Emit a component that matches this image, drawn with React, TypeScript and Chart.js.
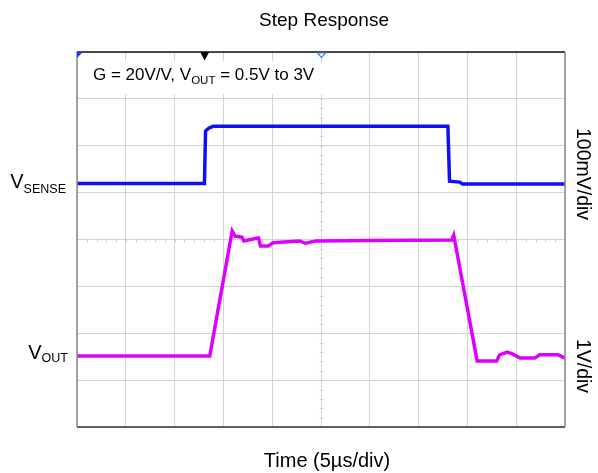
import React, { useEffect, useRef } from "react";
import { Chart, registerables } from "chart.js";

Chart.register(...registerables);

// ---- Data (time in µs, 5 µs/div, 10 divisions) ----
const TIME_US_SENSE = [0, 13.06, 13.17, 13.5, 13.93, 38.0, 38.17, 39.2, 39.5, 50];
const VSENSE_MV = [0, 0, 112, 118, 122, 122, 5, 3, -1, -1];

const TIME_US_OUT = [0, 13.6, 15.9, 16.2, 16.9, 17.1, 18.5, 18.6, 18.8, 19.6, 20.1, 22.8, 23.4, 24.5, 30, 38.4, 38.6, 41.0, 43.0, 43.3, 44.06, 44.6, 45.4, 46.9, 47.4, 49.3, 50];
const VOUT_V = [0.515, 0.515, 3.18, 3.07, 3.05, 2.97, 3.03, 3.03, 2.86, 2.86, 2.93, 2.97, 2.92, 2.97, 2.98, 2.99, 3.09, 0.41, 0.41, 0.54, 0.6, 0.56, 0.47, 0.47, 0.54, 0.54, 0.47];

// Scope settings
const X_DIVS = 10;
const US_PER_DIV = 5;
const Y_DIVS = 8;
const VSENSE_MV_PER_DIV = 100;
const VSENSE_OFFSET_DIV = 5.195;
const VOUT_V_PER_DIV = 1;
const VOUT_OFFSET_DIV = 1.0;
const TRIGGER_US = 13.08;

const TITLE = "Step Response";
const X_LABEL = "Time (5µs/div)";
const SENSE_SCALE = "100mV/div";
const OUT_SCALE = "1V/div";

const FONT = '"Liberation Sans", Arial, sans-serif';

function drawSub(ctx: CanvasRenderingContext2D, xRight: number, y: number, main: string, sub: string, mainSize: number, subSize: number, drop: number) {
  ctx.font = `${mainSize}px ${FONT}`;
  const wMain = ctx.measureText(main).width;
  ctx.font = `${subSize}px ${FONT}`;
  const wSub = ctx.measureText(sub).width;
  const x0 = xRight - wMain - wSub;
  ctx.textAlign = "left";
  ctx.textBaseline = "alphabetic";
  ctx.font = `${mainSize}px ${FONT}`;
  ctx.fillText(main, x0, y);
  ctx.font = `${subSize}px ${FONT}`;
  ctx.fillText(sub, x0 + wMain, y + drop);
}

const scopePlugin = {
  id: "scope",
  beforeDraw(chart: any) {
    const ctx = chart.ctx;
    ctx.save();
    ctx.fillStyle = "#ffffff";
    ctx.fillRect(0, 0, chart.width, chart.height);
    ctx.restore();
  },
  beforeDatasetsDraw(chart: any) {
    const ctx: CanvasRenderingContext2D = chart.ctx;
    const xs = chart.scales.x;
    const ys = chart.scales.y;
    ctx.save();
    ctx.strokeStyle = "#d0d0d0";
    ctx.lineWidth = 1;
    const cy = Math.round(ys.getPixelForValue(Y_DIVS / 2)) + 0.5;
    const cx = Math.round(xs.getPixelForValue((X_DIVS * US_PER_DIV) / 2)) + 0.5;
    ctx.beginPath();
    for (let t = 0; t <= X_DIVS * US_PER_DIV; t += US_PER_DIV / 5) {
      const px = Math.round(xs.getPixelForValue(t)) + 0.5;
      ctx.moveTo(px, cy - 2);
      ctx.lineTo(px, cy + 2);
    }
    for (let d = 0; d <= Y_DIVS + 0.001; d += 0.2) {
      const py = Math.round(ys.getPixelForValue(d)) + 0.5;
      ctx.moveTo(cx - 2, py);
      ctx.lineTo(cx + 2, py);
    }
    ctx.stroke();
    ctx.restore();
  },
  afterDraw(chart: any) {
    const ctx: CanvasRenderingContext2D = chart.ctx;
    const { left, right, top, bottom } = chart.chartArea;
    const xs = chart.scales.x;
    const ys = chart.scales.y;
    const cx = Math.round(xs.getPixelForValue((X_DIVS * US_PER_DIV) / 2)) + 0.5;
    ctx.save();

    // frame
    ctx.lineWidth = 1.5;
    ctx.strokeStyle = "#111111";
    ctx.beginPath();
    ctx.moveTo(left, top);
    ctx.lineTo(right, top);
    ctx.stroke();
    ctx.strokeStyle = "#333333";
    ctx.beginPath();
    ctx.moveTo(left, bottom);
    ctx.lineTo(right, bottom);
    ctx.stroke();
    ctx.strokeStyle = "#8a8a8a";
    ctx.beginPath();
    ctx.moveTo(left, top);
    ctx.lineTo(left, bottom);
    ctx.moveTo(right, top);
    ctx.lineTo(right, bottom);
    ctx.stroke();

    // info box
    ctx.fillStyle = "#ffffff";
    ctx.fillRect(left + 6, top + 9, 250, 33);
    ctx.fillStyle = "#000000";
    ctx.font = `17px ${FONT}`;
    ctx.textBaseline = "alphabetic";
    ctx.textAlign = "left";
    const p1 = "G = 20V/V, V";
    const bx = left + 16;
    const by = top + 28;
    ctx.fillText(p1, bx, by);
    const w1 = ctx.measureText(p1).width;
    ctx.font = `11.5px ${FONT}`;
    ctx.fillText("OUT", bx + w1, by + 4);
    const w2 = ctx.measureText("OUT").width;
    ctx.font = `17px ${FONT}`;
    ctx.fillText(" = 0.5V to 3V", bx + w1 + w2, by);

    // markers
    ctx.fillStyle = "#1f3fff";
    ctx.beginPath();
    ctx.moveTo(left, top);
    ctx.lineTo(left + 6, top);
    ctx.lineTo(left, top + 6);
    ctx.closePath();
    ctx.fill();

    const tx = xs.getPixelForValue(TRIGGER_US);
    ctx.fillStyle = "#000000";
    ctx.beginPath();
    ctx.moveTo(tx - 4.5, top);
    ctx.lineTo(tx + 4.5, top);
    ctx.lineTo(tx, top + 8.5);
    ctx.closePath();
    ctx.fill();

    ctx.strokeStyle = "#c8c8c8";
    ctx.lineWidth = 1;
    ctx.beginPath();
    ctx.moveTo(cx, top + 5);
    ctx.lineTo(cx, top + 11);
    ctx.stroke();
    ctx.fillStyle = "#ffffff";
    ctx.strokeStyle = "#3a8cff";
    ctx.lineWidth = 1.2;
    ctx.beginPath();
    ctx.moveTo(cx - 4, top + 1);
    ctx.lineTo(cx + 4, top + 1);
    ctx.lineTo(cx, top + 5.5);
    ctx.closePath();
    ctx.fill();
    ctx.stroke();

    // title and axis label
    ctx.fillStyle = "#000000";
    ctx.textAlign = "center";
    ctx.font = `19px ${FONT}`;
    ctx.fillText(TITLE, (left + right) / 2 + 3, 26);
    ctx.font = `20px ${FONT}`;
    ctx.fillText(X_LABEL, (left + right) / 2 + 6, 467);

    // left trace labels
    const ySense = ys.getPixelForValue(VSENSE_OFFSET_DIV);
    const yOut = ys.getPixelForValue(VOUT_OFFSET_DIV + 0.5 / VOUT_V_PER_DIV);
    drawSub(ctx, left - 11, ySense + 5, "V", "SENSE", 20, 12.5, 5);
    drawSub(ctx, left - 9, yOut + 2.5, "V", "OUT", 20, 12.5, 2.5);

    // right scale labels (rotated)
    ctx.font = `19.5px ${FONT}`;
    ctx.textAlign = "center";
    ctx.textBaseline = "middle";
    const rx = 582;
    ctx.save();
    ctx.translate(rx, 174);
    ctx.rotate(Math.PI / 2);
    ctx.fillText(SENSE_SCALE, 0, 0);
    ctx.restore();
    ctx.save();
    ctx.translate(rx, 366);
    ctx.rotate(Math.PI / 2);
    ctx.fillText(OUT_SCALE, 0, 0);
    ctx.restore();

    ctx.restore();
  },
};

export default function App() {
  const ref = useRef<HTMLCanvasElement | null>(null);
  useEffect(() => {
    document.body.style.margin = "0";
    const canvas = ref.current!;
    const senseData = TIME_US_SENSE.map((t, i) => ({ x: t, y: VSENSE_OFFSET_DIV + VSENSE_MV[i] / VSENSE_MV_PER_DIV }));
    const outData = TIME_US_OUT.map((t, i) => ({ x: t, y: VOUT_OFFSET_DIV + VOUT_V[i] / VOUT_V_PER_DIV }));
    const chart = new Chart(canvas, {
      type: "line",
      data: {
        datasets: [
          { label: "VSENSE", data: senseData, borderColor: "#1010f5", borderWidth: 3.5, pointRadius: 0, tension: 0, fill: false },
          { label: "VOUT", data: outData, borderColor: "#dc00ff", borderWidth: 3.5, pointRadius: 0, tension: 0, fill: false },
        ],
      },
      options: {
        responsive: false,
        animation: false,
        events: [],
        layout: { padding: { left: 77, top: 52, right: 33, bottom: 46 } },
        plugins: { legend: { display: false }, tooltip: { enabled: false }, title: { display: false } },
        scales: {
          x: {
            type: "linear",
            min: 0,
            max: X_DIVS * US_PER_DIV,
            ticks: { display: false, stepSize: US_PER_DIV },
            grid: { color: "#d4d4d4", lineWidth: 1, drawTicks: false },
            border: { display: false },
            afterFit: (s: any) => { s.height = 0; },
          },
          y: {
            type: "linear",
            min: 0,
            max: Y_DIVS,
            ticks: { display: false, stepSize: 1 },
            grid: { color: "#d4d4d4", lineWidth: 1, drawTicks: false },
            border: { display: false },
            afterFit: (s: any) => { s.width = 0; },
          },
        },
      },
      plugins: [scopePlugin],
    });
    return () => chart.destroy();
  }, []);
  return (
    <div style={{ position: "fixed", left: 0, top: 0, width: 598, height: 473 }}>
      <canvas ref={ref} width={598} height={473} style={{ width: 598, height: 473, display: "block" }} />
    </div>
  );
}
